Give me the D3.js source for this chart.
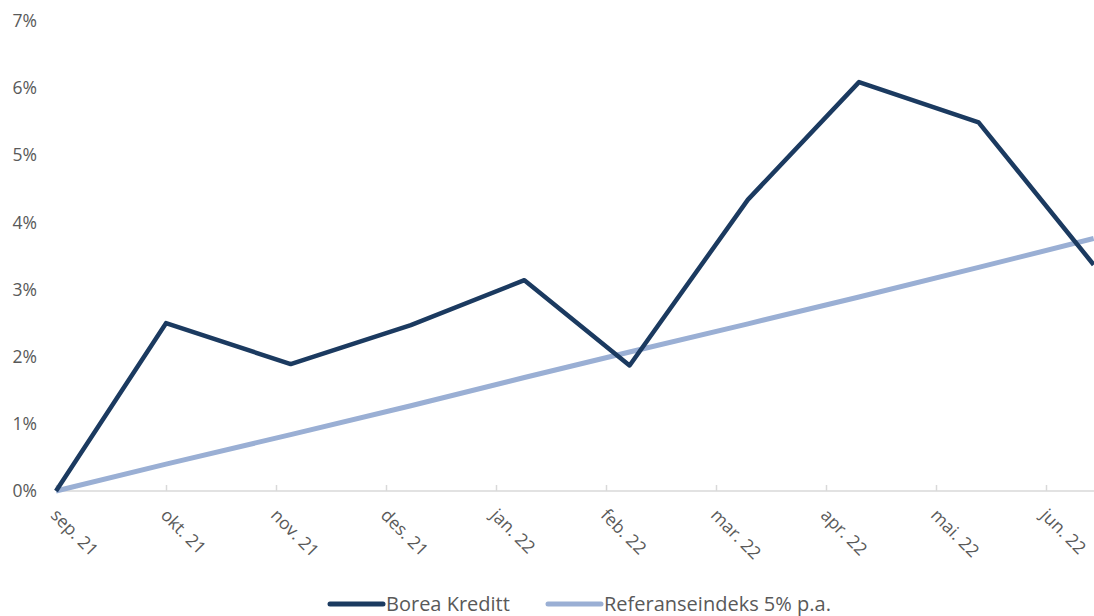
<!DOCTYPE html>
<html>
<head>
<meta charset="utf-8">
<script src="https://cdn.jsdelivr.net/npm/d3@7"></script>
<style>
    body { margin: 0; background: #ffffff; }
    svg { display: block; font-family: "Open Sans", Lato, sans-serif; }
    .tickText { fill: #595959; font-size: 17.5px; font-family: "Open Sans", Lato, sans-serif; }
    .legendText { fill: #595959; font-size: 20px; }
</style>
</head>
<body>
<div id="chart"></div>
<script>
// Data
var dates = ["2021-09-01", "2021-10-01", "2021-11-05", "2021-12-08", "2022-01-09",
    "2022-02-07", "2022-03-10", "2022-04-10", "2022-05-13", "2022-06-14"];
var boreaKreditt = [0, 2.50, 1.89, 2.47, 3.14, 1.87, 4.34, 6.09, 5.49, 3.37];
var referanse = [0, 0.40, 0.84, 1.27, 1.69, 2.07, 2.49, 2.89, 3.33, 3.76];
var monthLabels = ["sep. 21", "okt. 21", "nov. 21", "des. 21", "jan. 22",
    "feb. 22", "mar. 22", "apr. 22", "mai. 22", "jun. 22"];
var yTicks = [0, 1, 2, 3, 4, 5, 6, 7];
var seriesNames = ["Borea Kreditt", "Referanseindeks 5% p.a."];
var seriesColors = ["#1b3a60", "#9aafd4"];

// SVG area dimensions
var svgWidth = 1094;
var svgHeight = 616;

var svg = d3.select("#chart")
    .append("svg")
    .attr("width", svgWidth)
    .attr("height", svgHeight);

// month index from the first month (sep. 21), with fraction for the day
var parseDate = d3.timeParse("%Y-%m-%d");
function monthIndex(s) {
    var d = parseDate(s);
    var m = (d.getFullYear() - 2021) * 12 + d.getMonth() - 8;
    var days = new Date(d.getFullYear(), d.getMonth() + 1, 0).getDate();
    return m + (d.getDate() - 1) / days;
}

// Scales: every month takes the same width
var xScale = d3.scaleLinear()
    .domain([0, 1])
    .range([56, 166]);

var yScale = d3.scaleLinear()
    .domain([0, 7])
    .range([491, 21]);

// x axis line and ticks pointing up
var xAxis = d3.axisBottom(xScale)
    .tickValues(d3.range(monthLabels.length))
    .tickSizeInner(-6)
    .tickSizeOuter(0)
    .tickFormat("");

var xAxisGroup = svg.append("g")
    .attr("transform", "translate(0, 491)")
    .call(xAxis);
xAxisGroup.select(".domain")
    .attr("d", "M56,0H" + svgWidth)
    .attr("stroke", "#d9d9d9")
    .attr("stroke-width", 1.5);
xAxisGroup.selectAll(".tick line")
    .attr("stroke", "#d9d9d9")
    .attr("stroke-width", 1.5);

// rotated month labels
svg.append("g")
    .selectAll("text")
    .data(monthLabels)
    .enter()
    .append("text")
    .attr("class", "tickText")
    .attr("transform", (d, i) => `translate(${xScale(i) - 2}, 512) rotate(45)`)
    .attr("dy", "0.35em")
    .text(d => d);

// y axis labels only
var leftAxis = d3.axisLeft(yScale)
    .tickValues(yTicks)
    .tickSize(0)
    .tickPadding(0)
    .tickFormat(d => d + "%");

var yAxisGroup = svg.append("g")
    .attr("transform", "translate(37, 0)")
    .attr("font-family", null)
    .attr("font-size", null)
    .call(leftAxis);
yAxisGroup.attr("font-family", null).attr("font-size", null);
yAxisGroup.select(".domain").remove();
yAxisGroup.selectAll("text")
    .attr("class", "tickText")
    .attr("fill", null);

// Lines
svg.append("clipPath")
    .attr("id", "plotClip")
    .append("rect")
    .attr("x", 0)
    .attr("y", 0)
    .attr("width", svgWidth)
    .attr("height", 520);

var line = d3.line()
    .x(d => xScale(d[0]))
    .y(d => yScale(d[1]));

var xs = dates.map(monthIndex);

svg.append("path")
    .datum(xs.map((x, i) => [x, referanse[i]]))
    .attr("d", line)
    .attr("clip-path", "url(#plotClip)")
    .attr("fill", "none")
    .attr("stroke", seriesColors[1])
    .attr("stroke-width", 5)
    .attr("stroke-linejoin", "round");

svg.append("path")
    .datum(xs.map((x, i) => [x, boreaKreditt[i]]))
    .attr("d", line)
    .attr("clip-path", "url(#plotClip)")
    .attr("fill", "none")
    .attr("stroke", seriesColors[0])
    .attr("stroke-width", 4.5)
    .attr("stroke-linejoin", "round");

// Legend
var legendX = [330, 548];
var legend = svg.append("g")
    .selectAll("g")
    .data(seriesNames)
    .enter()
    .append("g")
    .attr("transform", (d, i) => `translate(${legendX[i]}, 604)`);

legend.append("line")
    .attr("x1", 0)
    .attr("x2", 53)
    .attr("stroke", (d, i) => seriesColors[i])
    .attr("stroke-width", 5)
    .attr("stroke-linecap", "round");

legend.append("text")
    .attr("class", "legendText")
    .attr("x", 56)
    .attr("dy", "0.35em")
    .text(d => d);
</script>
</body>
</html>
